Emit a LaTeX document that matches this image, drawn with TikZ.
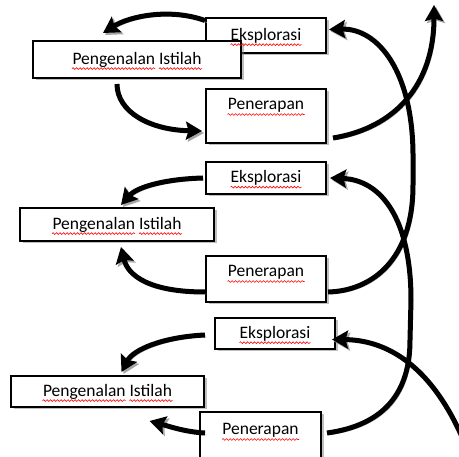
\documentclass[tikz,border=0pt]{standalone}
\usepackage{fontspec}
\setmainfont{Carlito}
\usetikzlibrary{arrows.meta,shadows,decorations.pathmorphing}

\begin{document}
\begin{tikzpicture}[x=1pt, y=-1pt,
  box/.style={draw, line width=1.2pt, fill=white, inner sep=0pt, outer sep=0pt,
    font=\fontsize{17.5}{20}\selectfont,
    drop shadow={shadow xshift=2.5pt, shadow yshift=-2.5pt}},
  flow/.style={line width=5pt, -{Stealth[length=16pt,width=18pt,inset=2.5pt]},
    preaction={draw=black!35, transform canvas={xshift=2pt,yshift=-2pt}}},
  spell/.style={red, line width=0.6pt, decorate,
    decoration={snake, segment length=3.5pt, amplitude=0.9pt}}]
\useasboundingbox (0,0) rectangle (459,457);
\clip (0,0) rectangle (459,457);

\node[box, minimum width=120pt, minimum height=35pt] (eks1) at (266,35.5) {Eksplorasi};
\node[box, minimum width=208pt, minimum height=37pt] (ist1) at (137,59.5) {Pengenalan Istilah};
\node[box, minimum width=120pt, text height=21pt, text depth=33pt] (ter1) at (266,116) {Penerapan};

\node[box, minimum width=120pt, minimum height=32pt] (eks2) at (266,178) {Eksplorasi};
\node[box, minimum width=194pt, minimum height=33pt] (ist2) at (117,224.5) {Pengenalan Istilah};
\node[box, minimum width=120pt, text height=21pt, text depth=25pt] (ter2) at (266,279) {Penerapan};

\node[box, minimum width=120pt, minimum height=31pt] (eks3) at (275,333.5) {Eksplorasi};
\node[box, minimum width=193pt, minimum height=31pt] (ist3) at (107.5,391.5) {Pengenalan Istilah};
\node[box, minimum width=121pt, text height=23pt, text depth=31pt] (ter3) at (260.5,439) {Penerapan};

\foreach \n in {eks1,eks2,eks3}
  \draw[spell] ([xshift=-35.5pt,yshift=-4.5pt]\n.base) -- ++(71,0);
\foreach \n in {ter1,ter2,ter3}
  \draw[spell] ([xshift=-38.5pt,yshift=-4.5pt]\n.base) -- ++(77,0);
\foreach \n in {ist1,ist2,ist3} {
  \draw[spell] ([xshift=-65pt,yshift=-4.5pt]\n.base) -- ++(83,0);
  \draw[spell] ([xshift=22pt,yshift=-4.5pt]\n.base) -- ++(43,0);
}

\coordinate (top) at (434,5);
\coordinate (prev) at (472,462);

\draw[flow] ([xshift=-1pt,yshift=15pt]eks1.west) .. controls (170,8) and (130,16) .. ([xshift=-34pt,yshift=8pt]ist1.north);
\draw[flow] ([xshift=-20pt,yshift=-6pt]ist1.south) .. controls (117,112) and (150,130) .. ([xshift=-4pt,yshift=-15pt]ter1.west);
\draw[flow] ([xshift=7pt,yshift=-22pt]ter1.east) .. controls (395,128) and (434,85) .. (top);
\draw[flow] ([xshift=2pt,yshift=-13pt]ter2.east) .. controls (370,291) and (413,262) .. (413,185) -- (413,160) .. controls (414,72) and (378,28) .. ([xshift=3pt,yshift=6pt]eks1.east);

\draw[flow] ([xshift=-3pt]eks2.west) .. controls (165,179) and (137,187) .. ([xshift=4pt,yshift=3pt]ist2.north);
\draw[flow] ([xshift=-1pt,yshift=-13pt]ter2.west) .. controls (150,292) and (128,276) .. ([xshift=4pt,yshift=-6pt]ist2.south);
\draw[flow] ([xshift=6pt,yshift=6pt]ter3.east) .. controls (385,425) and (410,392) .. (410,340) -- (411,300) .. controls (411,220) and (382,180) .. ([xshift=4pt]eks2.east);

\draw[flow] (prev) .. controls (440,372) and (392,340) .. ([xshift=-3pt,yshift=-6pt]eks3.east);
\draw[flow] ([xshift=-10pt,yshift=-1.5pt]eks3.west) .. controls (162,337) and (133,350) .. ([xshift=14pt,yshift=4pt]ist3.north);
\draw[flow] ([xshift=5pt,yshift=6pt]ter3.west) .. controls (185,432) and (168,426) .. ([xshift=42pt,yshift=-14pt]ist3.south);
\end{tikzpicture}
\end{document}
